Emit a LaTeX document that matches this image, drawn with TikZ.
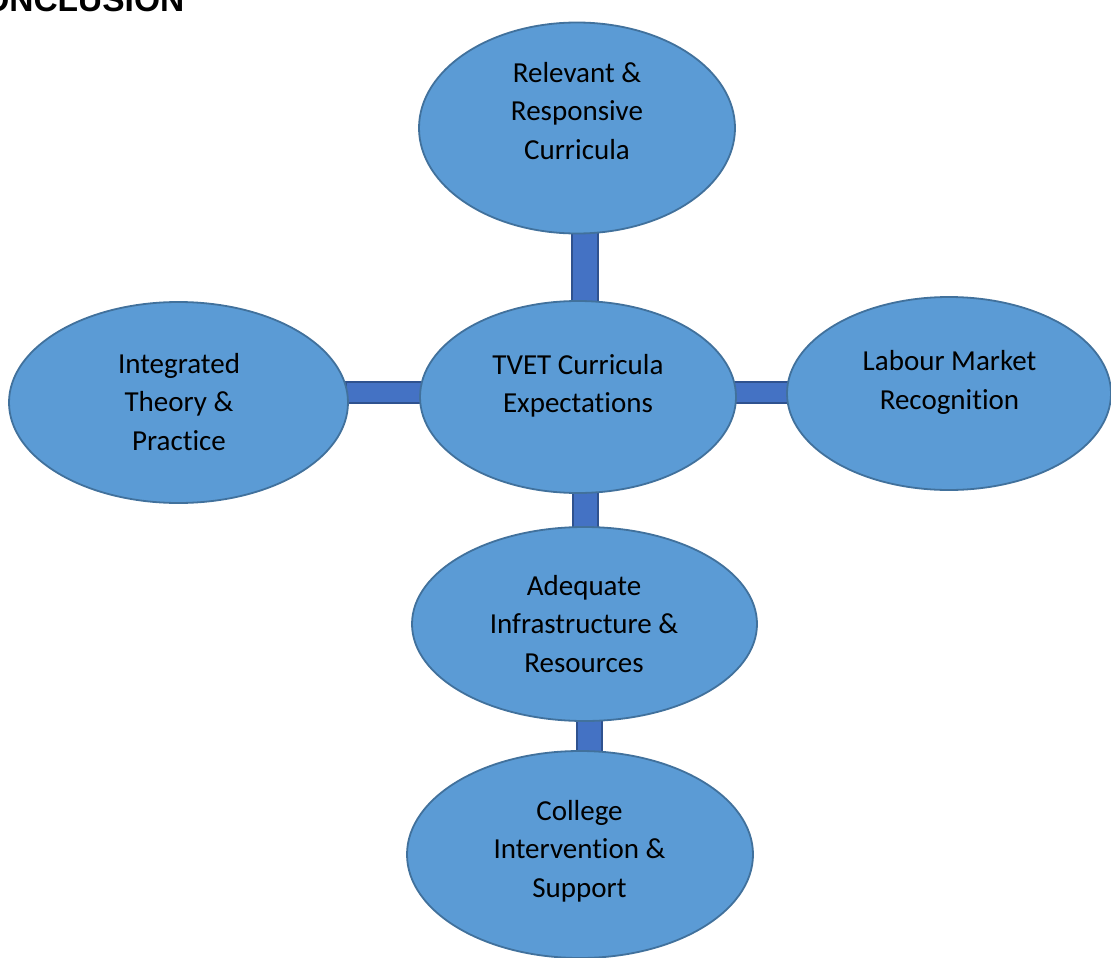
\documentclass[tikz,border=0pt]{standalone}
\usepackage{fontspec}
\setmainfont{Carlito}[Ligatures=NoCommon]
\newfontfamily\titlefont{Liberation Sans}
\usetikzlibrary{shapes.geometric,backgrounds}
\definecolor{ellfill}{HTML}{5B9BD5}
\definecolor{elldraw}{HTML}{41719C}
\definecolor{barfill}{HTML}{4472C4}
\definecolor{bardraw}{HTML}{2F528F}
\tikzset{
  bubble/.style={ellipse, draw=elldraw, fill=ellfill, line width=1.8pt, inner sep=0pt},
  bubbletext/.style={align=center, font=\fontsize{29}{38.5}\selectfont, inner sep=0pt, text=black},
  barpath/.style={draw=bardraw, fill=barfill, line width=1.5pt},
}
\begin{document}
\begin{tikzpicture}[x=1pt,y=-1pt]
\useasboundingbox (0,0) rectangle (1111,958);
\begin{scope}
\clip (0,0) rectangle (1111,958);
% title (cropped at the top-left)
\node[anchor=base east, inner sep=0pt, font=\titlefont\bfseries\fontsize{33.5}{40}\selectfont] (title) at (184.5,12) {CONCLUSION};

% ellipses
\node[bubble, minimum width=316pt, minimum height=211pt] (top) at (577,128) {};
\node[bubble, minimum width=316pt, minimum height=192pt] (ctr) at (578,397) {};
\node[bubble, minimum width=339pt, minimum height=201pt] (lft) at (178.5,402.5) {};
\node[bubble, minimum width=324pt, minimum height=193pt] (rgt) at (949,393.5) {};
\node[bubble, minimum width=345pt, minimum height=194pt] (adq) at (584.5,624) {};
\node[bubble, minimum width=346pt, minimum height=207pt] (col) at (580,854.5) {};

% texts
\node[bubbletext] (ttop) at (577,111) {Relevant \&\\Responsive\\Curricula};
\node[bubbletext] (tctr) at (578,386) {TVET Curricula\\Expectations};
\node[bubbletext] (tlft) at (179,402) {Integrated\\Theory \&\\Practice};
\node[bubbletext] (trgt) at (949.5,382.5) {Labour Market\\Recognition};
\node[bubbletext] (tadq) at (584,624) {Adequate\\Infrastructure \&\\Resources};
\node[bubbletext] (tcol) at (579.5,851) {College\\Intervention \&\\Support};

% connecting bars (behind the ellipses)
\begin{scope}[on background layer]
\fill[white] (0,0) rectangle (1111,958);
\draw[barpath] ([xshift=-5pt,yshift=3pt]top.south) rectangle ([xshift=20pt,yshift=-3pt]ctr.north);
\draw[barpath] ([xshift=-5pt,yshift=3pt]ctr.south) rectangle ([xshift=13.5pt,yshift=-3pt]adq.north);
\draw[barpath] ([xshift=-7.5pt,yshift=3pt]adq.south) rectangle ([xshift=22pt,yshift=-3pt]col.north);
\draw[barpath] ([xshift=-3pt,yshift=20.5pt]lft.east) rectangle ([xshift=3pt,yshift=-6pt]ctr.west);
\draw[barpath] ([xshift=-3pt,yshift=15pt]ctr.east) rectangle ([xshift=3pt,yshift=-9.5pt]rgt.west);
\end{scope}
\end{scope}
\end{tikzpicture}
\end{document}
